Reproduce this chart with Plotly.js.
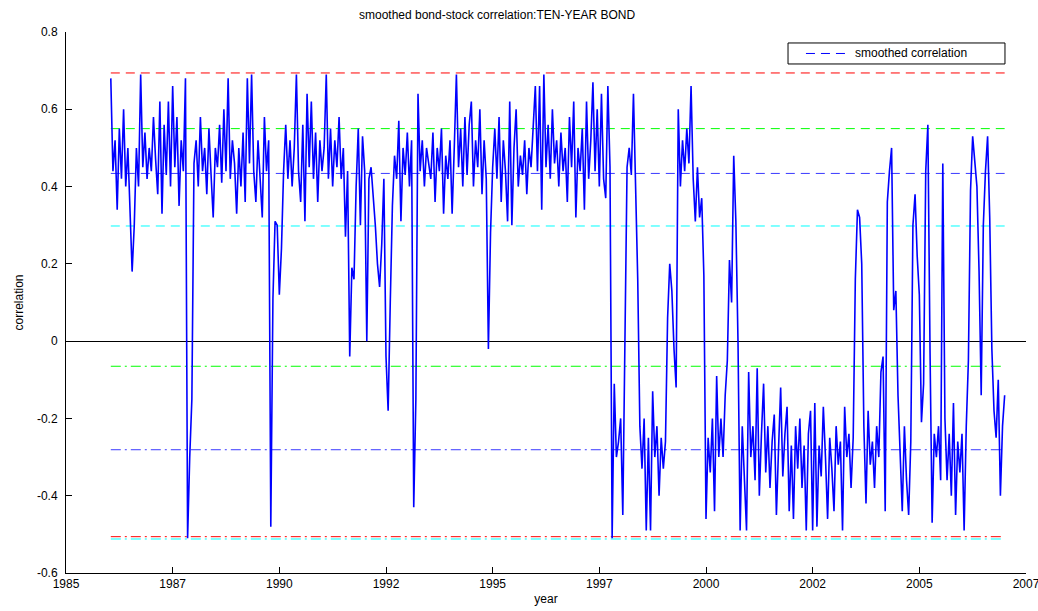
<!DOCTYPE html>
<html>
<head>
<meta charset="utf-8">
<script src="https://cdn.plot.ly/plotly-3.0.1.min.js"></script>
<style>
  html, body { margin: 0; padding: 0; background: #fff; }
  #chart { width: 1038px; height: 611px; }
</style>
</head>
<body>
<div id="chart"></div>
<script>
// ---- data ----
const chartTitle = 'smoothed bond-stock correlation:TEN-YEAR BOND';
const xAxisTitle = 'year';
const yAxisTitle = 'correlation';
const legendName = 'smoothed correlation';

// sampling of the series: first observation (decimal year) and spacing
const seriesStart = 1986.05;
const seriesStep = 0.05;

// smoothed correlation, one value per sample
const corrValues = [
  0.68, 0.44, 0.52, 0.34, 0.55, 0.42, 0.60, 0.40, 0.50, 0.36,
  0.18, 0.30, 0.50, 0.40, 0.69, 0.45, 0.54, 0.42, 0.50, 0.44,
  0.58, 0.47, 0.38, 0.62, 0.33, 0.56, 0.43, 0.62, 0.40, 0.66,
  0.45, 0.58, 0.35, 0.52, 0.44, 0.68, -0.51, -0.30, -0.15, 0.46,
  0.52, 0.40, 0.58, 0.44, 0.50, 0.38, 0.55, 0.43, 0.32, 0.50,
  0.45, 0.56, 0.41, 0.60, 0.44, 0.68, 0.42, 0.52, 0.46, 0.33,
  0.50, 0.40, 0.54, 0.36, 0.68, 0.46, 0.69, 0.44, 0.36, 0.52,
  0.42, 0.32, 0.58, 0.44, 0.52, -0.48, 0.11, 0.31, 0.30, 0.12,
  0.24, 0.44, 0.56, 0.42, 0.52, 0.40, 0.50, 0.69, 0.44, 0.36,
  0.56, 0.31, 0.64, 0.45, 0.62, 0.42, 0.54, 0.36, 0.52, 0.44,
  0.50, 0.69, 0.42, 0.55, 0.40, 0.52, 0.45, 0.58, 0.42, 0.50,
  0.27, 0.44, -0.04, 0.19, 0.16, 0.40, 0.55, 0.30, 0.53, 0.44,
  0.00, 0.42, 0.45, 0.38, 0.30, 0.20, 0.14, 0.25, 0.42, -0.04,
  -0.18, 0.10, 0.35, 0.48, 0.42, 0.57, 0.31, 0.50, 0.43, 0.54,
  0.40, 0.52, -0.43, -0.15, 0.64, 0.44, 0.52, 0.40, 0.50, 0.46,
  0.42, 0.54, 0.36, 0.50, 0.44, 0.55, 0.33, 0.48, 0.42, 0.52,
  0.33, 0.50, 0.69, 0.45, 0.55, 0.40, 0.58, 0.43, 0.56, 0.62,
  0.40, 0.52, 0.45, 0.60, 0.38, 0.52, 0.42, -0.02, 0.28, 0.45,
  0.55, 0.42, 0.58, 0.36, 0.52, 0.44, 0.31, 0.62, 0.30, 0.50,
  0.60, 0.40, 0.48, 0.43, 0.52, 0.38, 0.50, 0.45, 0.55, 0.66,
  0.44, 0.66, 0.34, 0.69, 0.45, 0.56, 0.42, 0.60, 0.46, 0.52,
  0.40, 0.54, 0.44, 0.50, 0.36, 0.58, 0.45, 0.62, 0.32, 0.50,
  0.44, 0.55, 0.34, 0.62, 0.42, 0.52, 0.67, 0.44, 0.60, 0.40,
  0.64, 0.42, 0.37, 0.66, 0.45, -0.51, -0.11, -0.30, -0.26, -0.20,
  -0.45, 0.00, 0.45, 0.50, 0.43, 0.64, 0.40, 0.16, -0.22, -0.33,
  -0.20, -0.49, -0.25, -0.49, -0.13, -0.30, -0.22, -0.40, -0.25, -0.33,
  -0.26, 0.06, 0.20, 0.13, -0.02, -0.12, 0.60, 0.40, 0.52, 0.44,
  0.55, 0.46, 0.66, 0.42, 0.31, 0.45, 0.32, 0.37, 0.17, -0.46,
  -0.25, -0.34, -0.20, -0.44, -0.09, -0.30, -0.20, -0.30, -0.14, -0.05,
  0.21, 0.10, 0.48, 0.31, 0.00, -0.49, -0.22, -0.36, -0.49, -0.08,
  -0.30, -0.22, -0.36, -0.07, -0.40, -0.24, -0.11, -0.34, -0.22, -0.38,
  -0.26, -0.19, -0.45, -0.28, -0.12, -0.35, -0.24, -0.17, -0.44, -0.27,
  -0.46, -0.22, -0.33, -0.20, -0.38, -0.27, -0.49, -0.24, -0.18, -0.49,
  -0.16, -0.48, -0.27, -0.35, -0.17, -0.30, -0.46, -0.25, -0.33, -0.44,
  -0.22, -0.32, -0.26, -0.49, -0.17, -0.30, -0.24, -0.38, -0.25, 0.16,
  0.34, 0.32, 0.20, -0.22, -0.42, -0.18, -0.32, -0.26, -0.38, -0.22,
  -0.30, -0.08, -0.04, -0.44, 0.36, 0.44, 0.50, 0.08, 0.13, -0.14,
  -0.30, -0.44, -0.22, -0.36, -0.45, -0.26, 0.30, 0.38, 0.22, 0.12,
  -0.21, -0.11, 0.44, 0.56, -0.02, -0.47, -0.24, -0.30, -0.22, -0.36,
  0.46, -0.20, -0.36, -0.24, -0.40, -0.16, -0.45, -0.26, -0.34, -0.24,
  -0.49, -0.22, -0.05, 0.39, 0.53, 0.47, 0.40, 0.18, -0.14, 0.30,
  0.44, 0.53, 0.32, -0.02, -0.18, -0.25, -0.10, -0.40, -0.22, -0.14
];

// horizontal reference levels
const refLevels = [0.694, 0.550, 0.434, 0.298, -0.065, -0.281, -0.506, -0.512];

// axis ticks
const xTickVals = [1985, 1987.5, 1990, 1992.5, 1995, 1997.5, 2000, 2002.5, 2005, 2007.5];
const xTickText = ['1985', '1987', '1990', '1992', '1995', '1997', '2000', '2002', '2005', '2007'];
const yTickVals = [0.8, 0.6, 0.4, 0.2, 0, -0.2, -0.4, -0.6];
const yTickText = ['0.8', '0.6', '0.4', '0.2', '0', '-0.2', '-0.4', '-0.6'];

// ---- styles ----
const refColors = ['#ff0000', '#00ff00', '#3a3aff', '#00ffff', '#00ff00', '#3a3aff', '#ff0000', '#00ffff'];
const DASH = '9px,6px';
const DASHDOT = '10px,4px,2px,4px';
const refDashes = [DASH, DASH, DASH, DASH, DASHDOT, DASHDOT, DASHDOT, DASHDOT];
const legendIndex = 2;

const FONT = 'Liberation Sans, Arial, Helvetica, sans-serif';

const years = corrValues.map((_, i) => seriesStart + seriesStep * i);
const xFirst = years[0];
const xLast = years[years.length - 1];

const traces = [];
refLevels.forEach((lv, k) => {
  traces.push({
    type: 'scatter', mode: 'lines',
    x: [xFirst, xLast], y: [lv, lv],
    line: { color: refColors[k], width: 1, dash: refDashes[k] },
    name: k === legendIndex ? legendName : 'level ' + k,
    showlegend: false,
    hoverinfo: 'skip'
  });
});
traces.push({
  type: 'scatter', mode: 'lines',
  x: years, y: corrValues,
  line: { color: '#0000ff', width: 1.6 },
  name: 'series', showlegend: false, hoverinfo: 'skip'
});

// legend box (paper coordinates of the plot area)
const LEG = { x0: 0.7521, x1: 0.9781, y0: 0.9409, y1: 0.9797, lineX0: 0.7708, lineX1: 0.8167, textX: 0.8198 };
const legY = (LEG.y0 + LEG.y1) / 2;

const layout = {
  width: 1038, height: 611,
  margin: { l: 66, r: 12, t: 32, b: 38 },
  paper_bgcolor: '#ffffff', plot_bgcolor: '#ffffff',
  font: { family: FONT, size: 12, color: '#000' },
  title: {
    text: chartTitle,
    font: { family: FONT, size: 12, color: '#000' },
    xref: 'paper', x: 0.449, xanchor: 'center',
    yref: 'container', y: 0.976, yanchor: 'middle'
  },
  showlegend: false,
  shapes: [
    { type: 'rect', xref: 'paper', yref: 'paper', x0: LEG.x0, x1: LEG.x1, y0: LEG.y0, y1: LEG.y1,
      line: { color: '#000', width: 1 }, fillcolor: '#ffffff', layer: 'above' },
    { type: 'line', xref: 'paper', yref: 'paper', x0: LEG.lineX0, x1: LEG.lineX1, y0: legY, y1: legY,
      line: { color: '#0000ff', width: 1, dash: DASH }, layer: 'above' }
  ],
  annotations: [
    { xref: 'paper', yref: 'paper', x: LEG.textX, y: legY, xanchor: 'left', yanchor: 'middle',
      text: legendName, showarrow: false, font: { family: FONT, size: 12, color: '#000' } }
  ],
  xaxis: {
    range: [1985, 2007.5001],
    tickmode: 'array', tickvals: xTickVals, ticktext: xTickText,
    ticks: 'inside', ticklen: 6, tickwidth: 1, tickcolor: '#000',
    ticklabeloverflow: 'allow',
    showline: true, linecolor: '#000', linewidth: 1, mirror: false,
    showgrid: false, zeroline: false,
    tickfont: { family: FONT, size: 12, color: '#000' },
    title: { text: xAxisTitle, font: { family: FONT, size: 12, color: '#000' }, standoff: 4 }
  },
  yaxis: {
    range: [-0.6, 0.8],
    tickmode: 'array', tickvals: yTickVals, ticktext: yTickText,
    ticks: 'inside', ticklen: 6, tickwidth: 1, tickcolor: '#000',
    showline: true, linecolor: '#000', linewidth: 1, mirror: false,
    showgrid: false,
    zeroline: true, zerolinecolor: '#000', zerolinewidth: 1,
    ticklabelstandoff: 5,
    tickfont: { family: FONT, size: 12, color: '#000' },
    title: { text: yAxisTitle, font: { family: FONT, size: 12, color: '#000' }, standoff: 10 }
  }
};

Plotly.newPlot('chart', traces, layout, { staticPlot: true, displayModeBar: false });
</script>
</body>
</html>
